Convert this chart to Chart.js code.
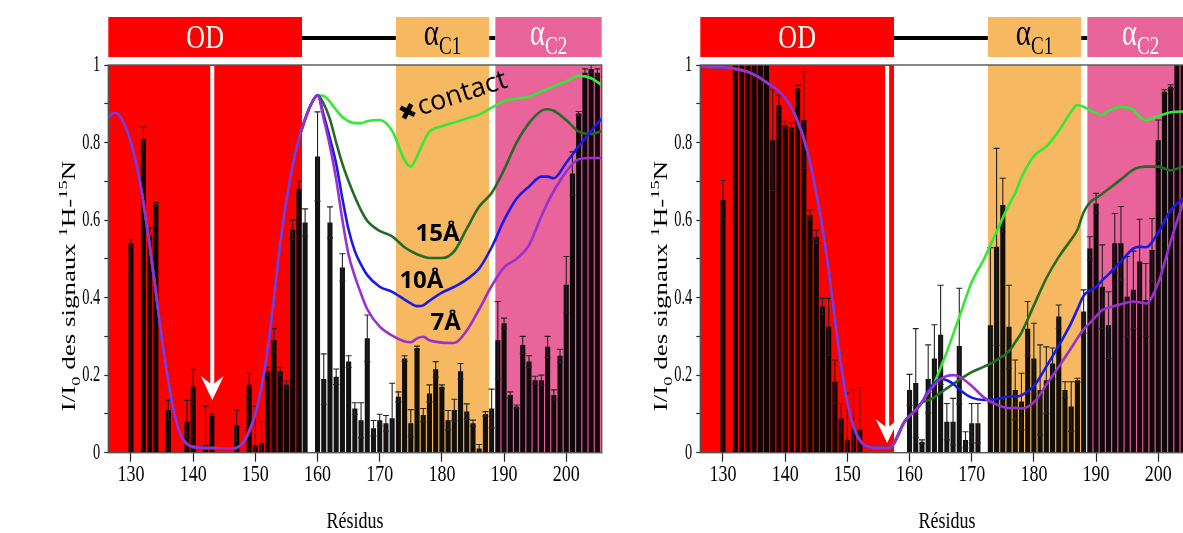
<!DOCTYPE html>
<html>
<head>
<meta charset="utf-8">
<script src="https://cdn.jsdelivr.net/npm/chart.js@4.4.0/dist/chart.umd.min.js"></script>
<style>
  body { margin: 0; background: #fff; overflow: hidden; width: 1183px; height: 533px; position: relative; }
  .panel { position: absolute; top: 0; width: 610px; height: 533px; }
</style>
</head>
<body>
<div class="panel" style="left:0"><canvas id="left" width="610" height="533"></canvas></div>
<div class="panel" style="left:592px"><canvas id="right" width="610" height="533"></canvas></div>
<script>
// axes
const xTicks = [130, 140, 150, 160, 170, 180, 190, 200];
const yTicks = [0, 0.1, 0.2, 0.3, 0.4, 0.5, 0.6, 0.7, 0.8, 0.9, 1];

// domains (residue ranges)
const domainLabels = ['OD', 'α', 'α'];
const domainSubs = ['', 'C1', 'C2'];
const domainStart = [126, 172.6, 188.6];
const domainEnd = [157.5, 187.6, 206];

// left panel: bars (I/I0 per residue) and errors
const leftRes = [130,132,133,134,136,139,140,142,143,147,149,150,151,152,153,154,155,156,157,158,
  160,161,162,163,164,165,166,167,168,169,170,171,172,173,174,175,176,177,178,179,180,181,182,183,184,185,
  186,187,188,189,190,191,192,193,194,195,196,197,198,199,200,201,202,203,204,205];
const leftVal = [0.54,0.81,0.56,0.64,0.11,0.08,0.17,0.02,0.095,0.07,0.175,0.02,0.025,0.21,0.29,0.21,0.175,0.575,0.68,0.594,
  0.764,0.19,0.594,0.196,0.478,0.235,0.114,0.084,0.295,0.063,0.084,0.076,0.089,0.144,0.243,0.076,0.27,0.097,0.153,0.215,0.17,0.084,0.11,0.21,0.106,0.076,
  0.011,0.10,0.114,0.29,0.334,0.149,0.119,0.278,0.235,0.187,0.187,0.273,0.149,0.25,0.433,0.72,0.875,0.98,0.99,0.98];
const leftErr = [0.01,0.03,0.02,0.005,0.025,0.055,0.045,0.10,0.005,0.04,0.03,0.10,0.055,0.01,0.03,0.01,0.01,0.025,0.02,0.035,
  0.115,0.065,0.04,0.02,0.035,0.015,0.015,0.045,0.06,0.02,0.015,0.02,0.09,0.013,0.007,0.035,0.005,0.017,0.022,0.02,0.005,0.025,0.028,0.02,0.02,0.008,
  0.01,0.006,0.05,0.10,0.013,0.008,0.004,0.022,0.015,0.01,0.013,0.027,0.013,0.017,0.073,0.056,0.005,0.01,0.01,0.01];

// left panel: curves (shared head, then one tail per distance)
const leftHeadX = [126.4,127.3,128,129,130,131,132,133,134,135,136,137,138,139,140,143,146,147,148,149,150,151,152,153,154,155,156,157,158,159,160];
const leftHead = [0.866,0.877,0.872,0.845,0.80,0.735,0.645,0.535,0.415,0.29,0.185,0.10,0.045,0.022,0.015,0.012,0.011,0.013,0.025,0.055,0.10,0.17,0.27,0.40,0.54,0.65,0.74,0.81,0.86,0.90,0.922];
const leftTailX = [161,162,163,164,165,166,167,168,170,172,174,175,176,177,178,180,182,184,186,188,190,192,194,196,197,198,200,202,204,205.7];
const leftContact = [0.92,0.905,0.884,0.866,0.855,0.85,0.85,0.855,0.858,0.83,0.755,0.738,0.765,0.80,0.828,0.842,0.852,0.862,0.872,0.89,0.907,0.913,0.918,0.932,0.938,0.945,0.958,0.972,0.966,0.948];
const left15 = [0.90,0.86,0.80,0.745,0.70,0.66,0.625,0.598,0.572,0.558,0.53,0.52,0.512,0.506,0.502,0.502,0.52,0.578,0.635,0.67,0.73,0.80,0.85,0.882,0.886,0.882,0.858,0.828,0.822,0.83];
const left10 = [0.87,0.81,0.745,0.655,0.575,0.52,0.485,0.458,0.428,0.415,0.395,0.385,0.378,0.38,0.392,0.413,0.428,0.447,0.475,0.53,0.60,0.655,0.686,0.712,0.712,0.708,0.748,0.79,0.83,0.862];
const left7 = [0.86,0.79,0.705,0.60,0.51,0.455,0.41,0.37,0.325,0.302,0.287,0.285,0.295,0.299,0.29,0.284,0.283,0.315,0.37,0.43,0.478,0.50,0.535,0.61,0.645,0.675,0.725,0.757,0.76,0.76];

// right panel: bars and errors
const rightRes = [130,132,133,134,135,136,137,138,139,140,141,142,143,144,145,146,147,148,149,150,151,152,
  160,161,162,163,164,165,166,167,168,169,170,171,
  173,174,175,176,177,178,179,180,181,182,183,184,185,186,187,188,189,190,191,192,193,194,195,196,197,198,199,200,201,202,203,204,205];
const rightVal = [0.652,1.05,1.1,1.05,1.02,1.1,1.15,0.806,0.897,0.845,0.84,0.94,0.858,0.613,0.557,0.377,0.325,0.183,0.089,0.033,0.063,0.058,
  0.162,0.18,0.028,0.19,0.243,0.304,0.08,0.08,0.275,0.033,0.076,0.076,
  0.329,0.531,0.639,0.325,0.162,0.132,0.32,0.243,0.162,0.187,0.23,0.351,0.162,0.119,0.187,0.364,0.527,0.643,0.428,0.329,0.54,0.54,0.402,0.42,0.493,0.394,0.523,0.806,0.931,0.944,1.02,1.05,1.05];
const rightErr = [0.05,0.05,0.05,0.05,0.05,0.05,0.05,0.13,0.025,0.01,0.01,0.008,0.125,0.013,0.017,0.021,0.073,0.056,0.038,0.12,0.10,0.11,
  0.04,0.14,0.005,0.088,0.087,0.128,0.047,0.06,0.149,0.021,0.051,0.051,
  0.2,0.254,0.069,0.107,0.077,0.073,0.07,0.091,0.116,0.086,0.04,0.03,0.021,0.064,0.005,0.056,0.03,0.026,0.108,0.086,0.077,0.095,0.104,0.10,0.109,0.094,0.081,0.052,0.005,0.005,0.01,0.01,0.01];

// right panel: curves
const rightHeadX = [126.5,128,130,132,134,135,136,137,138,139,140,141,142,143,144,145,146,147,148,149,150,151,152,153,154,156,157,158,159,160,161,162];
const rightHead = [0.996,0.995,0.994,0.99,0.982,0.975,0.966,0.955,0.945,0.932,0.915,0.89,0.855,0.81,0.75,0.67,0.58,0.47,0.345,0.225,0.13,0.068,0.032,0.018,0.013,0.012,0.014,0.04,0.075,0.095,0.11,0.13];
const rightTailX = [163,164,165,166,167,168,170,172,174,176,177,178,180,182,184,186,187,188,189,190,191,192,194,196,197,198,200,202,204,205.7];
const rightContact = [0.155,0.18,0.22,0.26,0.305,0.35,0.44,0.50,0.57,0.64,0.67,0.71,0.765,0.79,0.83,0.88,0.897,0.892,0.884,0.876,0.871,0.882,0.892,0.885,0.867,0.858,0.868,0.878,0.88,0.88];
const right15 = [0.135,0.143,0.155,0.166,0.177,0.188,0.208,0.222,0.239,0.262,0.285,0.31,0.38,0.45,0.505,0.55,0.575,0.62,0.645,0.657,0.668,0.68,0.705,0.73,0.736,0.738,0.738,0.728,0.738,0.74];
const right10 = [0.16,0.18,0.19,0.187,0.178,0.163,0.142,0.136,0.138,0.145,0.145,0.148,0.172,0.222,0.276,0.335,0.37,0.405,0.418,0.428,0.445,0.46,0.493,0.527,0.531,0.53,0.568,0.625,0.656,0.68];
const right7 = [0.155,0.175,0.19,0.198,0.20,0.196,0.172,0.142,0.124,0.115,0.116,0.114,0.13,0.175,0.222,0.27,0.295,0.318,0.334,0.352,0.368,0.374,0.383,0.39,0.388,0.385,0.438,0.545,0.643,0.70];

const domainFill = ['#ff0000', '#f6b961', '#e8649a'];
const domainInk = ['#fff', '#000', '#fff'];
const SERIF = '"Liberation Serif", "Times New Roman", serif';
const SANS = '"Open Sans", "DejaVu Sans", sans-serif';
const STRETCH = 1.32; // the original figure's text is tall and narrow

Chart.defaults.font.family = SERIF;
Chart.defaults.color = '#000';

const toPts = (xs, ys) => xs.map((x, i) => ({ x: x, y: ys[i] }));

function line(label, xs, ys, color) {
  return {
    type: 'line', label: label, data: toPts(xs, ys),
    borderColor: color, borderWidth: 2.6, pointRadius: 0,
    cubicInterpolationMode: 'monotone', fill: false
  };
}

// rich text: parts = [[text, 'n'|'sub'|'sup'], ...], drawn at the origin with given alignment
function richText(ctx, parts, size, family, color, align) {
  const fonts = parts.map(p => (p[1] === 'n' ? size : Math.round(size * 0.66)) + 'px ' + family);
  let total = 0;
  const widths = parts.map((p, i) => { ctx.font = fonts[i]; const w = ctx.measureText(p[0]).width; total += w; return w; });
  let x = align === 'right' ? -total : align === 'left' ? 0 : -total / 2;
  ctx.fillStyle = color;
  ctx.textAlign = 'left';
  ctx.textBaseline = 'middle';
  parts.forEach((p, i) => {
    ctx.font = fonts[i];
    const dy = p[1] === 'sub' ? size * 0.32 : p[1] === 'sup' ? -size * 0.36 : 0;
    ctx.fillText(p[0], x, dy);
    x += widths[i];
  });
}

// text stretched vertically around (x, y)
function tallText(ctx, parts, x, y, size, color, align, sx) {
  ctx.save();
  ctx.translate(x, y);
  ctx.scale(sx || 1, STRETCH);
  richText(ctx, parts, size, SERIF, color, align);
  ctx.restore();
}

function drawArrow(ctx, x, yTop, yTip) {
  ctx.save();
  ctx.strokeStyle = '#fff';
  ctx.fillStyle = '#fff';
  ctx.lineWidth = 4;
  ctx.beginPath();
  ctx.moveTo(x, yTop);
  ctx.lineTo(x, yTip - 14);
  ctx.stroke();
  ctx.beginPath();
  ctx.moveTo(x, yTip);
  ctx.lineTo(x - 11.5, yTip - 24);
  ctx.lineTo(x, yTip - 15);
  ctx.lineTo(x + 11.5, yTip - 24);
  ctx.closePath();
  ctx.fill();
  ctx.restore();
}

function panelPlugin(cfg) {
  return {
    id: 'panel',
    beforeDatasetsDraw(chart) {
      const { ctx, chartArea: a, scales: { x } } = chart;
      ctx.save();
      domainStart.forEach((s, i) => {
        const x0 = Math.max(a.left, x.getPixelForValue(s));
        const x1 = Math.min(a.right, x.getPixelForValue(domainEnd[i]));
        ctx.fillStyle = domainFill[i];
        ctx.fillRect(x0, a.top, x1 - x0, a.bottom - a.top);
      });
      ctx.restore();
    },
    afterDatasetDraw(chart, args) {
      if (args.meta.type !== 'bar') return;
      const { ctx, chartArea: a, scales: { y } } = chart;
      ctx.save();
      ctx.beginPath();
      ctx.rect(a.left, a.top, a.right - a.left, a.bottom - a.top);
      ctx.clip();
      ctx.strokeStyle = '#222';
      ctx.lineWidth = 1.1;
      args.meta.data.forEach((bar, i) => {
        const v = cfg.val[i], e = cfg.err[i];
        const yHi = y.getPixelForValue(v + e), yLo = y.getPixelForValue(Math.max(0, v - e));
        const bx = bar.x;
        ctx.beginPath();
        ctx.moveTo(bx, yLo); ctx.lineTo(bx, yHi);
        ctx.moveTo(bx - 3, yHi); ctx.lineTo(bx + 3, yHi);
        ctx.moveTo(bx - 3, yLo); ctx.lineTo(bx + 3, yLo);
        ctx.stroke();
      });
      ctx.restore();
    },
    afterDraw(chart) {
      const { ctx, chartArea: a, scales: { x, y } } = chart;
      ctx.save();
      // frame
      ctx.strokeStyle = '#555';
      ctx.lineWidth = 1.4;
      ctx.strokeRect(a.left, a.top, a.right - a.left, a.bottom - a.top);

      // arrow
      drawArrow(ctx, x.getPixelForValue(cfg.arrowAt), a.top + 1, y.getPixelForValue(cfg.arrowTip));

      // tick labels
      xTicks.forEach(v => tallText(ctx, [[String(v), 'n']], x.getPixelForValue(v), 475, 18, '#000', 'center'));
      yTicks.forEach(v => {
        const k = Math.round(v * 10);
        if (k % 2) return;
        tallText(ctx, [[String(k / 10), 'n']], a.left - 8, y.getPixelForValue(v), 18, '#000', 'right', 0.8);
      });

      // domain bar on top
      const boxTop = 17, boxBot = 57, mid = 38;
      const xs = domainStart.map(s => Math.max(a.left, x.getPixelForValue(s)));
      const xe = domainEnd.map(s => Math.min(a.right, x.getPixelForValue(s)));
      ctx.strokeStyle = '#000';
      ctx.lineWidth = 4;
      ctx.beginPath();
      for (let i = 0; i < xs.length - 1; i++) { ctx.moveTo(xe[i], mid); ctx.lineTo(xs[i + 1], mid); }
      ctx.stroke();
      xs.forEach((x0, i) => {
        ctx.fillStyle = domainFill[i];
        ctx.fillRect(x0, boxTop, xe[i] - x0, boxBot - boxTop);
        const cx = (x0 + xe[i]) / 2;
        if (domainSubs[i]) {
          tallText(ctx, [[domainLabels[i], 'n'], [domainSubs[i], 'sub']], cx, mid - 3, 29, domainInk[i], 'center');
        } else {
          tallText(ctx, [[domainLabels[i], 'n']], cx, mid + 1, 26, domainInk[i], 'center');
        }
      });

      // axis titles
      tallText(ctx, [['Résidus', 'n']], (a.left + a.right) / 2, 522, 18, '#000', 'center');
      ctx.save();
      ctx.translate(cfg.yTitleX, 286);
      ctx.rotate(-Math.PI / 2);
      ctx.scale(1.42, 1);
      richText(ctx, [['I/I', 'n'], ['0', 'sub'], [' des signaux ', 'n'], ['1', 'sup'], ['H-', 'n'], ['15', 'sup'], ['N', 'n']], 19, SERIF, '#000', 'center');
      ctx.restore();

      // labels on the curves
      if (cfg.notes) {
        ctx.save();
        ctx.translate(x.getPixelForValue(174.6), y.getPixelForValue(0.875));
        ctx.rotate(-18 * Math.PI / 180);
        ctx.fillStyle = '#000';
        ctx.textBaseline = 'middle';
        ctx.textAlign = 'center';
        ctx.font = 'bold 22px "DejaVu Sans"';
        ctx.fillText('✖', 0, 0);
        ctx.textAlign = 'left';
        ctx.font = '27px ' + SANS;
        ctx.fillText('contact', 11, -2);
        ctx.restore();
        const bold = [['15Å', 179.3, 0.564], ['10Å', 176.7, 0.443], ['7Å', 180.6, 0.333]];
        ctx.font = 'bold 24px ' + SANS;
        ctx.fillStyle = '#000';
        ctx.textAlign = 'center';
        ctx.textBaseline = 'middle';
        bold.forEach(b => ctx.fillText(b[0], x.getPixelForValue(b[1]), y.getPixelForValue(b[2])));
      }
      ctx.restore();
    }
  };
}

function makePanel(id, cfg) {
  const xsAll = cfg.headX.concat(cfg.tailX);
  const datasets = [
    line('7Å', xsAll, cfg.head.concat(cfg.c7), '#9a30d0'),
    line('10Å', xsAll, cfg.head.concat(cfg.c10), '#1a1ae8'),
    line('15Å', xsAll, cfg.head.concat(cfg.c15), '#246b24'),
    line('contact', xsAll, cfg.head.concat(cfg.contact), '#35e834'),
    {
      type: 'bar', label: 'I/I0', data: toPts(cfg.res, cfg.val),
      backgroundColor: 'rgba(0,0,0,0.93)', barPercentage: 0.82, categoryPercentage: 1
    }
  ];
  return new Chart(document.getElementById(id), {
    type: 'bar',
    data: { datasets: datasets },
    options: {
      responsive: false,
      animation: false,
      layout: { padding: { top: 65, right: 8.3, left: 0, bottom: 0 } },
      plugins: { legend: { display: false }, tooltip: { enabled: false } },
      scales: {
        x: {
          type: 'linear', min: 126.35, max: 205.7, offset: false,
          afterFit: s => { s.height = 80.3; },
          afterBuildTicks: s => { s.ticks = xTicks.map(v => ({ value: v })); },
          grid: { offset: false, drawOnChartArea: false, tickLength: 9, tickColor: '#222', tickWidth: 1.2 },
          border: { display: false },
          ticks: { display: false }
        },
        y: {
          min: 0, max: 1,
          afterFit: s => { s.width = 108.3; },
          afterBuildTicks: s => { s.ticks = yTicks.map(v => ({ value: v })); },
          grid: { drawOnChartArea: false, tickLength: 4, tickColor: '#222', tickWidth: 1.2 },
          border: { display: false },
          ticks: { display: false }
        }
      }
    },
    plugins: [panelPlugin(cfg)]
  });
}

makePanel('left', {
  res: leftRes, val: leftVal, err: leftErr,
  headX: leftHeadX, head: leftHead, tailX: leftTailX,
  contact: leftContact, c15: left15, c10: left10, c7: left7,
  arrowAt: 143.07, arrowTip: 0.136, notes: true, yTitleX: 70
});
makePanel('right', {
  res: rightRes, val: rightVal, err: rightErr,
  headX: rightHeadX, head: rightHead, tailX: rightTailX,
  contact: rightContact, c15: right15, c10: right10, c7: right7,
  arrowAt: 156.4, arrowTip: 0.025, notes: false, yTitleX: 70
});
</script>
</body>
</html>
